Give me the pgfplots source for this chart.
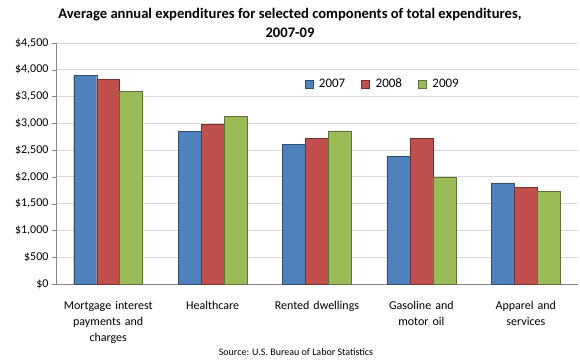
\documentclass[border=0pt]{standalone}
\usepackage{pgfplots}
\pgfplotsset{compat=1.18}
\usepackage{fontspec}
\setmainfont{Carlito}
\definecolor{cA}{HTML}{4F81BD}
\definecolor{cB}{HTML}{C0504D}
\definecolor{cC}{HTML}{9BBB59}
\definecolor{gridc}{HTML}{D9D9D9}
\definecolor{axc}{HTML}{868686}
\begin{document}
\begin{tikzpicture}[x=1pt,y=1pt]
\path[use as bounding box] (-56,-76) rectangle (524,284);
\begin{axis}[
  at={(0,0)}, anchor=south west,
  scale only axis, width=522pt, height=241pt,
  ybar, bar width=0.22, 
  xmin=-0.5, xmax=4.5, ymin=0, ymax=4500,
  ytick={0,500,...,4500},
  xtick={0,1,2,3,4},
  xticklabels={{Mortgage interest\\payments and\\charges},{Healthcare},{Rented dwellings},{Gasoline and\\motor oil},{Apparel and\\services}},
  x tick label style={text width=100pt, align=center, font=\fontsize{12}{16}\selectfont, yshift=-10pt},
  major x tick style={draw=none},
  extra x ticks={-0.5,0.5,1.5,2.5,3.5,4.5},
  extra x tick labels={},
  extra x tick style={major tick length=4pt, tick style={draw=axc}, grid=none},
  tick align=outside,
  ymajorgrids, grid style={gridc, line width=0.8pt},
  y tick label style={font=\fontsize{12}{14}\selectfont},
  yticklabel={\$\pgfmathprintnumber{\tick}},
  /pgf/number format/.cd, 1000 sep={,}, fixed, assume math mode=true,
  /pgfplots/.cd,
  major y tick style={draw=axc},
  major tick length=4pt,
  axis x line*=bottom, axis y line*=left,
  axis line style={draw=axc, line width=0.8pt},
  legend style={draw=none, fill=none, at={(0.47,0.83)}, anchor=west, font=\fontsize{13}{15}\selectfont, /tikz/every even column/.append style={column sep=14pt}},
  legend columns=3,
  legend image code/.code={\fill[#1] (0pt,-4pt) rectangle (8pt,4pt); \path (12pt,0pt);},
  clip=false,
]
\addplot[fill=cA, draw=cA!60!black, bar shift=-0.22] coordinates {(0,3890) (1,2853) (2,2602) (3,2384) (4,1881)};
\addplot[fill=cB, draw=cB!60!black, bar shift=0] coordinates {(0,3827) (1,2976) (2,2724) (3,2715) (4,1801)};
\addplot[fill=cC, draw=cC!60!black, bar shift=0.22] coordinates {(0,3594) (1,3126) (2,2860) (3,1986) (4,1725)};
\legend{2007,2008,2009}
\end{axis}
\node[align=center, font=\fontsize{14.6}{19}\selectfont\bfseries] at (234,261) {Average annual expenditures for selected components of total expenditures,\\2007-09};
\node[font=\fontsize{10}{12}\selectfont] at (240,-68) {Source: U.S. Bureau of Labor Statistics};
\end{tikzpicture}
\end{document}
